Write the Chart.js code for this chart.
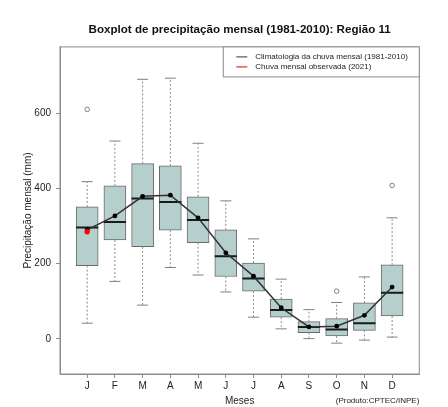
<!DOCTYPE html>
<html>
<head>
<meta charset="utf-8">
<script src="https://cdn.jsdelivr.net/npm/chart.js@4.4.1/dist/chart.umd.min.js"></script>
<style>
  html, body { margin: 0; padding: 0; background: #fff; }
  #wrap { width: 448px; height: 407px; }
</style>
</head>
<body>
<div id="wrap"><canvas id="boxChart"></canvas></div>
<script>
// Meses e estatisticas do boxplot (1981-2010)
const months = ['J', 'F', 'M', 'A', 'M', 'J', 'J', 'A', 'S', 'O', 'N', 'D'];
const whiskerLow  = [42, 153, 90, 190, 170, 125, 58, 27, 1, -11, -3, 5];
const q1          = [195, 263, 245, 289, 256, 166, 127, 58, 17, 8, 23, 61];
const medians     = [296, 311, 373, 364, 316, 220, 161, 77, 32, 25, 42, 123];
const q3          = [351, 407, 466, 460, 378, 290, 202, 106, 46, 54, 96, 197];
const whiskerHigh = [418, 526, 690, 693, 520, 367, 266, 159, 78, 97, 165, 322];
const outlierMonth = [1, 10, 12];
const outlierValue = [610, 127, 408];
const climMean = [290, 327, 379, 382, 322, 229, 167, 83, 32, 34, 63, 138];
const observed2021 = [285, null, null, null, null, null, null, null, null, null, null, null];
const yTicks = [0, 200, 400, 600];

const FONT = "'Liberation Sans', Arial, sans-serif";

// helper: horizontal segments centred on each month, separated by gaps
function hSegments(values, half) {
  const pts = [];
  values.forEach((v, i) => {
    pts.push({ x: i + 1 - half, y: v }, { x: i + 1 + half, y: v }, { x: i + 1, y: null });
  });
  return pts;
}
function vSegments(from, to) {
  const pts = [];
  from.forEach((v, i) => {
    pts.push({ x: i + 1, y: v }, { x: i + 1, y: to[i] }, { x: i + 1, y: null });
  });
  return pts;
}

const whiskerPts = vSegments(q3, whiskerHigh).concat(vSegments(q1, whiskerLow));
const capPts = hSegments(whiskerHigh, 0.2).concat(hSegments(whiskerLow, 0.2));

const framePlugin = {
  id: 'frameAndLegend',
  afterDatasetsDraw(chart) {
    const { ctx, chartArea: a } = chart;
    ctx.save();
    ctx.strokeStyle = '#8c8c8c';
    ctx.lineWidth = 1;
    ctx.strokeRect(a.left, a.top, a.right - a.left, a.bottom - a.top);

    // legenda no canto superior direito
    const w = 196, h = 30;
    const lx = a.right - w, ly = a.top;
    ctx.fillStyle = '#fff';
    ctx.fillRect(lx, ly, w, h);
    ctx.strokeRect(lx, ly, w, h);
    const items = [
      { text: 'Climatologia da chuva mensal (1981-2010)', color: '#333' },
      { text: 'Chuva mensal observada (2021)', color: '#e00000' }
    ];
    ctx.font = '8px ' + FONT;
    ctx.textBaseline = 'middle';
    ctx.textAlign = 'left';
    items.forEach((it, k) => {
      const yy = ly + 10 + k * 10;
      ctx.strokeStyle = it.color;
      ctx.beginPath();
      ctx.moveTo(lx + 13, yy);
      ctx.lineTo(lx + 24, yy);
      ctx.stroke();
      ctx.fillStyle = '#222';
      ctx.fillText(it.text, lx + 32, yy);
    });

    ctx.textAlign = 'right';
    ctx.fillStyle = '#222';
    ctx.fillText('(Produto:CPTEC/INPE)', a.right, 401);
    ctx.restore();
  }
};

const ctx = document.getElementById('boxChart').getContext('2d');
new Chart(ctx, {
  type: 'line',
  data: {
    datasets: [
      {
        label: 'Chuva mensal observada (2021)',
        data: observed2021.map((v, i) => ({ x: i + 1, y: v })),
        showLine: false,
        pointRadius: 2.7,
        pointBorderWidth: 0,
        pointBackgroundColor: '#ff0000',
        pointBorderColor: '#ff0000'
      },
      {
        label: 'Climatologia da chuva mensal (1981-2010)',
        data: climMean.map((v, i) => ({ x: i + 1, y: v })),
        borderColor: '#333',
        borderWidth: 1.5,
        pointRadius: 2.4,
        pointBorderWidth: 0,
        pointBackgroundColor: '#000',
        pointBorderColor: '#000'
      },
      {
        label: 'medianas',
        data: hSegments(medians, 0.4),
        borderColor: '#1a1a1a',
        borderWidth: 2,
        pointRadius: 0,
        spanGaps: false
      },
      {
        label: 'outliers',
        data: outlierMonth.map((m, i) => ({ x: m, y: outlierValue[i] })),
        showLine: false,
        pointRadius: 2.3,
        pointBackgroundColor: 'rgba(0,0,0,0)',
        pointBorderColor: '#808080',
        pointBorderWidth: 1
      },
      {
        label: 'limites',
        data: capPts,
        borderColor: '#808080',
        borderWidth: 1,
        pointRadius: 0,
        spanGaps: false
      },
      {
        label: 'bigodes',
        data: whiskerPts,
        borderColor: '#8a8a8a',
        borderWidth: 1,
        borderDash: [2, 2],
        pointRadius: 0,
        spanGaps: false
      },
      {
        type: 'bar',
        label: 'caixas',
        data: q1.map((v, i) => ({ x: i + 1, y: [v, q3[i]] })),
        backgroundColor: '#b5cfcd',
        borderColor: '#6a6a6a',
        borderWidth: 1,
        borderSkipped: false,
        barThickness: 22,
        grouped: false
      }
    ]
  },
  options: {
    responsive: true,
    maintainAspectRatio: false,
    animation: false,
    layout: { padding: { left: 0, right: 28.7, top: 0, bottom: 0 } },
    plugins: {
      legend: { display: false },
      tooltip: { enabled: false },
      title: {
        display: true,
        fullSize: false,
        text: 'Boxplot de precipitação mensal (1981-2010): Região 11',
        color: '#111',
        font: { family: FONT, size: 11.6, weight: 'bold' },
        padding: { top: 23, bottom: 10 }
      }
    },
    scales: {
      x: {
        type: 'linear',
        min: 0.02,
        max: 12.98,
        offset: false,
        afterBuildTicks: (scale) => { scale.ticks = months.map((m, i) => ({ value: i + 1 })); },
        afterFit: (scale) => { scale.height = 33; },
        ticks: {
          autoSkip: false,
          maxRotation: 0,
          padding: 2,
          color: '#222',
          font: { family: FONT, size: 10 },
          callback: (v) => months[v - 1]
        },
        grid: { drawOnChartArea: false, drawTicks: true, tickLength: 4, color: '#8c8c8c', offset: false },
        border: { display: true, color: '#8c8c8c' },
        title: {
          display: true,
          text: 'Meses',
          color: '#222',
          font: { family: FONT, size: 10 },
          padding: { top: 0, bottom: 0 }
        }
      },
      y: {
        type: 'linear',
        min: -93,
        max: 776,
        afterBuildTicks: (scale) => { scale.ticks = yTicks.map(v => ({ value: v })); },
        afterFit: (scale) => { scale.width = 60; },
        ticks: {
          padding: 5,
          color: '#222',
          font: { family: FONT, size: 10 }
        },
        grid: { drawOnChartArea: false, drawTicks: true, tickLength: 4, color: '#8c8c8c' },
        border: { display: true, color: '#8c8c8c' },
        title: {
          display: true,
          text: 'Precipitação mensal (mm)',
          color: '#222',
          font: { family: FONT, size: 10 },
          padding: { top: 22, bottom: 0 }
        }
      }
    }
  },
  plugins: [framePlugin]
});
</script>
</body>
</html>
